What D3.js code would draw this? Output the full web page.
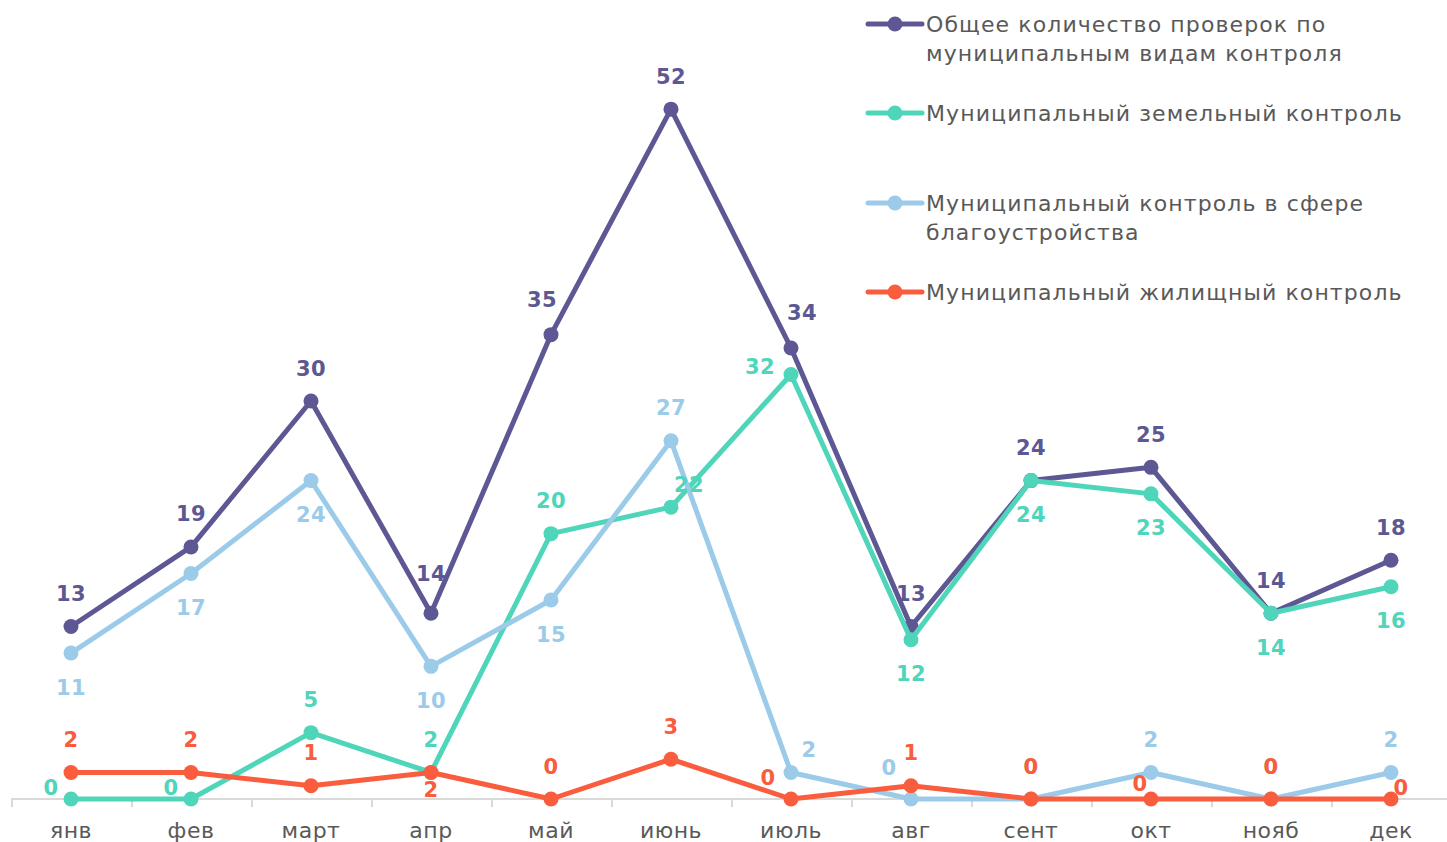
<!DOCTYPE html>
<html>
<head>
<meta charset="utf-8">
<script src="https://cdn.jsdelivr.net/npm/d3@7"></script>
<style>
  body { margin: 0; background: #fff; }
  text { font-family: 'DejaVu Sans', sans-serif; }
</style>
</head>
<body>
<script>
// Data
var months = ['янв', 'фев', 'март', 'апр', 'май', 'июнь', 'июль', 'авг', 'сент', 'окт', 'нояб', 'дек']
var totalChecks = [13, 19, 30, 14, 35, 52, 34, 13, 24, 25, 14, 18]
var landControl = [0, 0, 5, 2, 20, 22, 32, 12, 24, 23, 14, 16]
var improvementControl = [11, 17, 24, 10, 15, 27, 2, 0, 0, 2, 0, 2]
var housingControl = [2, 2, 1, 2, 0, 3, 0, 1, 0, 0, 0, 0]
var seriesNames = [
  ['Общее количество проверок по', 'муниципальным видам контроля'],
  ['Муниципальный земельный контроль'],
  ['Муниципальный контроль в сфере', 'благоустройства'],
  ['Муниципальный жилищный контроль']
]
// where each value label sits (codes looked up in labelOffset below)
var totalLabelPos = ['a', 'a', 'a', 'aa', 'a-', 'a', 'a+', 'a', 'a', 'a', 'a', 'a']
var landLabelPos = ['l', 'l', 'a', 'a', 'a', 'ar', 'L', 'b', 'b', 'b', 'b', 'b']
var improvementLabelPos = ['b', 'b', 'b', 'b', 'b', 'a', 'ar', 'al', 'a', 'a', 'a', 'a']
var housingLabelPos = ['a', 'a', 'a', 'B', 'a', 'a', 'l3', 'a', 'a', 'l4', 'a', 'r']

var labelOffset = {
  'a': [0, -33], 'aa': [0, -40], 'a-': [-9, -35], 'a+': [11, -35],
  'b': [0, 34], 'B': [0, 17],
  'l': [-20, -12], 'L': [-31, -8], 'l3': [-23, -22], 'l4': [-11, -16],
  'r': [10, -12], 'ar': [18, -23], 'al': [-22, -32]
}

var colors = ['#5d5893', '#4fd5b9', '#9bcbe9', '#f95d3e']

var w = 1447, h = 842
var margin = { top: 3, left: 11, right: 1451, bottom: 799 }

var svg = d3.select('body').append('svg')
    .attr('width', w)
    .attr('height', h)

// Scales
var xScale = d3.scaleBand()
  .domain(months)
  .range([margin.left, margin.right])
var yScale = d3.scaleLinear()
  .domain([0, 60])
  .range([margin.bottom, margin.top])

// X-axis
var xAxis = d3.axisBottom(xScale).tickSize(0).tickPadding(23)
var gx = svg.append('g')
    .attr('transform', 'translate(0,' + margin.bottom + ')')
    .call(xAxis)
gx.select('.domain').attr('stroke', '#d9d9d9').attr('stroke-width', 2)
  .attr('d', 'M' + margin.left + ',0H' + w)
gx.selectAll('text')
    .attr('fill', '#595959')
    .style('font-size', '22px')
    .style('letter-spacing', '0.5px')
    .style('font-family', "'DejaVu Sans', sans-serif")
// boundary ticks between categories
gx.selectAll('line.sep')
    .data(months)
    .enter()
  .append('line')
    .attr('class', 'sep')
    .attr('x1', function (d) { return xScale(d) + 1 })
    .attr('x2', function (d) { return xScale(d) + 1 })
    .attr('y1', 0)
    .attr('y2', 8)
    .attr('stroke', '#d9d9d9')
    .attr('stroke-width', 2)

var series = [
  { values: totalChecks, pos: totalLabelPos, color: colors[0] },
  { values: landControl, pos: landLabelPos, color: colors[1] },
  { values: improvementControl, pos: improvementLabelPos, color: colors[2] },
  { values: housingControl, pos: housingLabelPos, color: colors[3] }
]

var cx = function (d, i) { return xScale(months[i]) + xScale.bandwidth() / 2 }
var line = d3.line()
  .x(cx)
  .y(function (d) { return yScale(d) })

series.forEach(function (s) {
  svg.append('path')
      .datum(s.values)
      .attr('d', line)
      .attr('fill', 'none')
      .attr('stroke', s.color)
      .attr('stroke-width', 5)
      .attr('stroke-linejoin', 'round')
  svg.selectAll(null)
      .data(s.values)
      .enter()
    .append('circle')
      .attr('cx', cx)
      .attr('cy', function (d) { return yScale(d) })
      .attr('r', 7.5)
      .attr('fill', s.color)
})

// Value labels
series.forEach(function (s) {
  svg.selectAll(null)
      .data(s.values)
      .enter()
    .append('text')
      .attr('x', function (d, i) { return cx(d, i) + labelOffset[s.pos[i]][0] })
      .attr('y', function (d, i) { return yScale(d) + labelOffset[s.pos[i]][1] })
      .attr('dy', '0.36em')
      .attr('text-anchor', 'middle')
      .attr('fill', s.color)
      .style('font-size', '21px')
      .style('font-weight', 'bold')
      .style('letter-spacing', '0.5px')
      .text(function (d) { return d })
})

// Legend
var legendY = [24, 113, 203, 292]
var legend = svg.selectAll('g.legend')
    .data(seriesNames)
    .enter()
  .append('g')
    .attr('class', 'legend')
    .attr('transform', function (d, i) { return 'translate(868,' + legendY[i] + ')' })
legend.append('line')
    .attr('x1', 0).attr('x2', 54)
    .attr('stroke', function (d, i) { return colors[i] })
    .attr('stroke-width', 5)
    .attr('stroke-linecap', 'round')
legend.append('circle')
    .attr('cx', 27)
    .attr('r', 7.5)
    .attr('fill', function (d, i) { return colors[i] })
legend.each(function (d) {
  var t = d3.select(this).append('text')
      .attr('x', 58)
      .attr('fill', '#595959')
      .style('font-size', '22px')
      .style('letter-spacing', '1.1px')
  d.forEach(function (ln, j) {
    t.append('tspan')
        .attr('x', 58)
        .attr('y', j * 29)
        .attr('dy', '0.35em')
        .text(ln)
  })
})
</script>
</body>
</html>
